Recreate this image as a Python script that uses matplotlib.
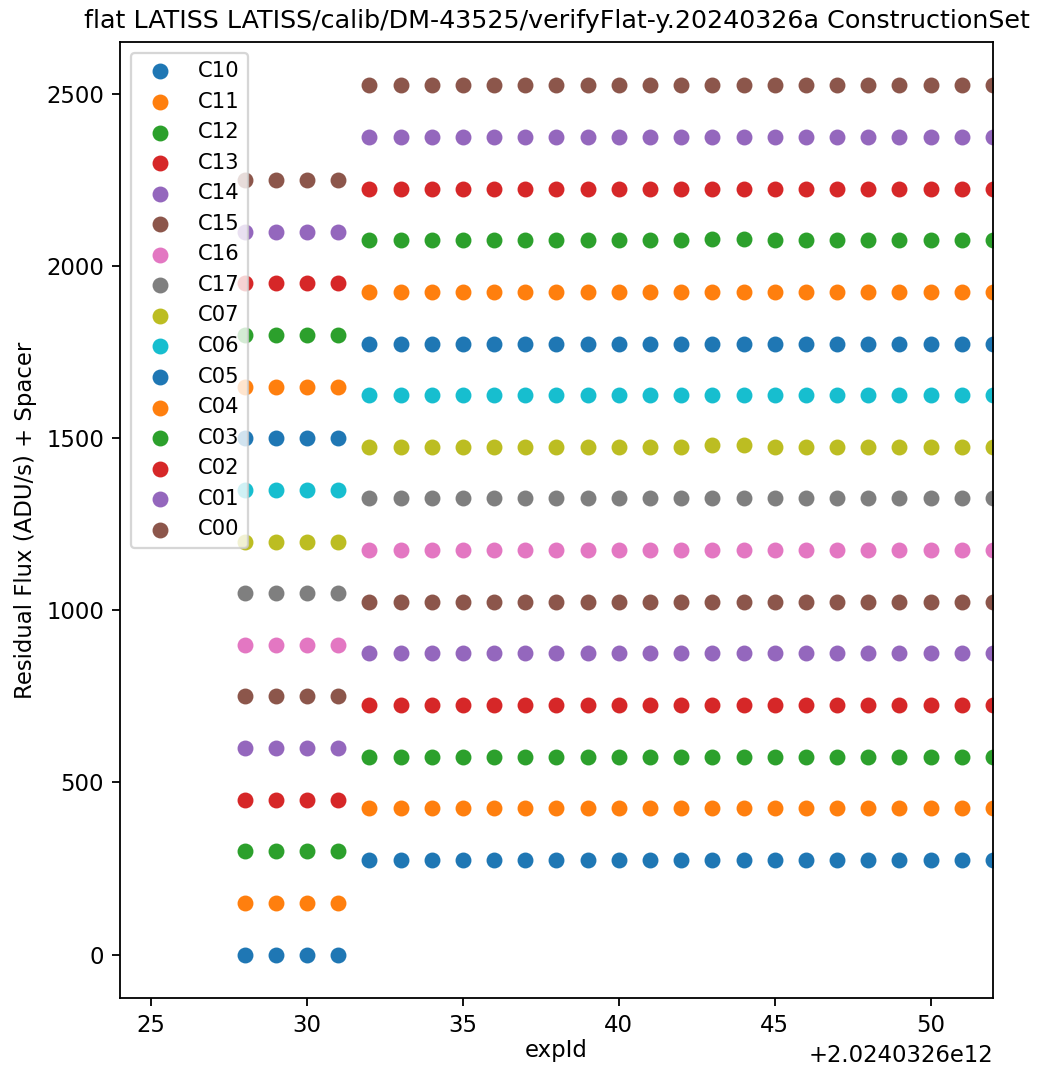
import matplotlib
matplotlib.use("Agg")
import matplotlib.pyplot as plt

# amplifier names in legend order
amps = ["C10", "C11", "C12", "C13", "C14", "C15", "C16", "C17",
        "C07", "C06", "C05", "C04", "C03", "C02", "C01", "C00"]

# exposure ids (offset from 2.0240326e12)
BASE = 2024032600000
early_ids = [28, 29, 30, 31]
late_ids = [32, 33, 34, 35, 36, 37, 38, 39, 40, 41, 42,
            43, 44, 45, 46, 47, 48, 49, 50, 51, 52]

# residual flux + spacer levels per amp
early_level = [0, 150, 300, 450, 600, 750, 900, 1050,
               1200, 1350, 1500, 1650, 1800, 1950, 2100, 2250]
late_level = [275, 425, 575, 725, 875, 1025, 1175, 1325,
              1475, 1625, 1775, 1925, 2075, 2225, 2375, 2525]

# small bumps seen on a few exposures (amp -> {expId: delta})
bumps = {"C03": {43: 5, 44: 5}, "C07": {43: 5, 44: 5}}

DPI = 163.44
fig = plt.figure(figsize=(1046 / DPI, 1066 / DPI), dpi=DPI)
ax = fig.add_axes([0.1147, 0.0638, 0.8346, 0.8968])

for i, amp in enumerate(amps):
    xs = [BASE + e for e in early_ids] + [BASE + e for e in late_ids]
    ys = [early_level[i]] * len(early_ids)
    ys += [late_level[i] + bumps.get(amp, {}).get(e, 0) for e in late_ids]
    ax.scatter(xs, ys, label=amp)

ax.set_xlim(BASE + 24, BASE + 52)
ax.set_xlabel("expId", labelpad=1)
ax.set_ylabel("Residual Flux (ADU/s) + Spacer")
ax.set_title("flat LATISS LATISS/calib/DM-43525/verifyFlat-y.20240326a ConstructionSet",
             fontsize=11.2)
ax.legend(loc="upper left", fontsize=9.3)

fig.savefig("out.png", dpi=DPI)
